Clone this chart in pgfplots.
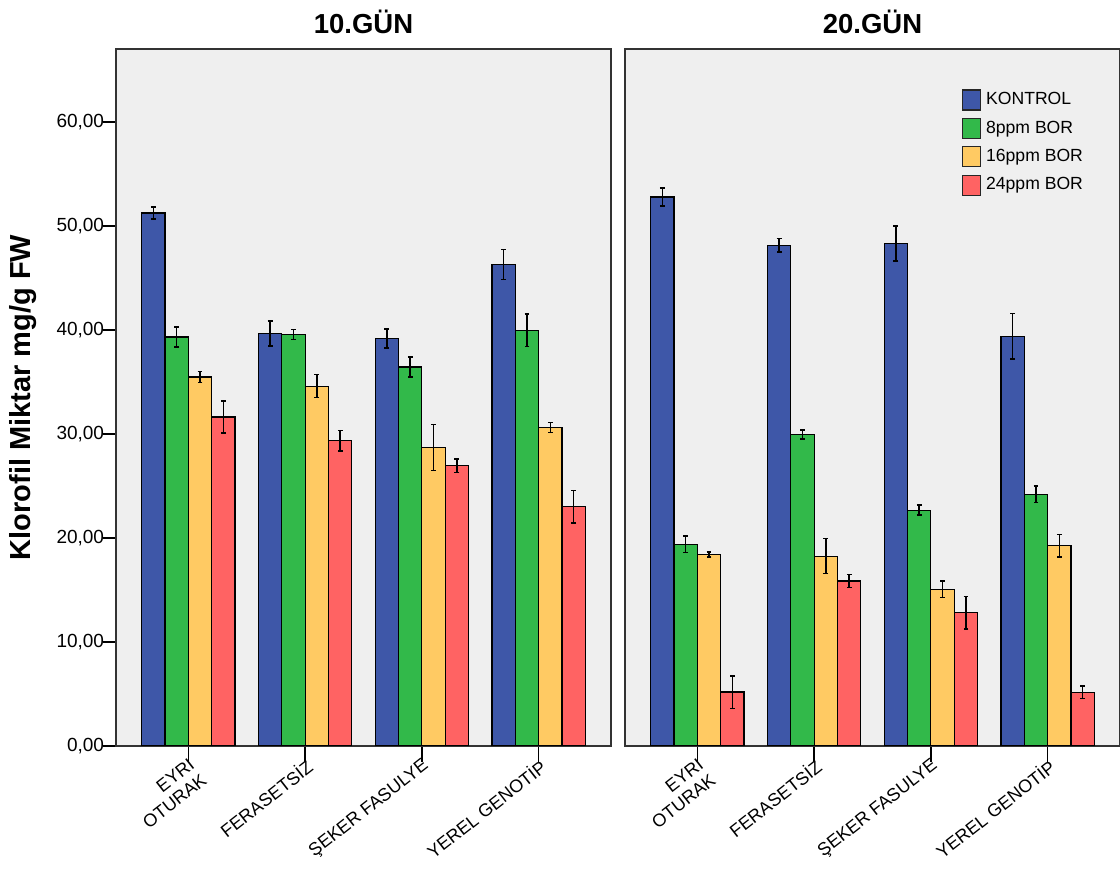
\documentclass[border=0pt]{standalone}
\usepackage{fontspec}
\setmainfont{Liberation Sans}
\usepackage{pgfplots}
\usepackage{pgfplotstable}
\pgfplotsset{compat=1.18}
\definecolor{cK}{RGB}{62,87,168}
\definecolor{cG}{RGB}{50,185,74}
\definecolor{cY}{RGB}{255,202,99}
\definecolor{cR}{RGB}{255,99,99}
\definecolor{bgc}{RGB}{239,239,239}

% 10. GUN
\pgfplotstableread{
x k ke g ge y ye r re
0 51.25 0.60 39.33 0.96 35.48 0.53 31.63 1.54
1 39.65 1.20 39.56 0.48 34.59 1.10 29.33 1.00
2 39.17 0.91 36.44 0.96 28.69 2.20 26.92 0.64
3 46.30 1.45 39.97 1.57 30.62 0.48 22.98 1.55
}\tenday
% 20. GUN
\pgfplotstableread{
x k ke g ge y ye r re
0 52.79 0.85 19.37 0.80 18.40 0.24 5.16 1.57
1 48.14 0.64 29.94 0.45 18.24 1.68 15.84 0.64
2 48.31 1.70 22.66 0.48 15.04 0.80 12.79 1.55
3 39.40 2.20 24.20 0.80 19.23 1.07 5.13 0.60
}\twentyday

\pgfplotsset{
  common/.style={
    scale only axis, width=247.5pt, height=348.2pt, anchor=south west,
    xmin=-0.62, xmax=3.62, ymin=0, ymax=67,
    axis background/.style={fill=bgc},
    axis line style={draw=black!80, line width=0.8pt},
    ybar, bar width=0.2,
    xtick={0,1,2,3},
    xticklabels={{EYRI\\OTURAK},{FERASETSİZ},{ŞEKER FASULYE},{YEREL GENOTİP}},
    xtick pos=bottom, ytick pos=left, tick align=outside,
    xtick style={black, line width=0.8pt, /pgfplots/major tick length=8pt},
    ytick style={black, line width=0.8pt, /pgfplots/major tick length=6.5pt},
    xticklabel style={rotate=38, anchor=north east, align=right,
      font=\fontsize{9}{10}\selectfont, inner sep=1pt},
    yticklabel style={font=\fontsize{9.5}{10.5}\selectfont, inner sep=1.5pt,
      /pgf/number format/.cd, fixed, fixed zerofill, precision=2, use comma,
      assume math mode=true},
    title style={font=\fontsize{13.75}{16}\selectfont\bfseries,
      at={(0.5,1)}, anchor=base, yshift=2pt},
    error bars/y dir=both, error bars/y explicit,
    error bars/error bar style={black, line width=0.75pt},
    error bars/error mark options={black, rotate=90, mark size=1.2pt, line width=0.75pt},
    legend image code/.code={\draw[#1, draw=black!85, line width=0.6pt] (0pt,-5pt) rectangle (9pt,5pt);},
  },
  kb/.style={fill=cK, draw=black, line width=0.6pt, bar shift=-0.3},
  gb/.style={fill=cG, draw=black, line width=0.6pt, bar shift=-0.1},
  yb/.style={fill=cY, draw=black, line width=0.6pt, bar shift=0.1},
  rb/.style={fill=cR, draw=black, line width=0.6pt, bar shift=0.3},
}

\begin{document}
\begin{tikzpicture}
\path[use as bounding box] (0pt,0pt) rectangle (560pt,440pt);
\begin{axis}[common, at={(58pt,67.15pt)}, title={10.GÜN},
  ytick={0,10,...,60},
  ylabel={Klorofil Miktar mg/g FW},
  ylabel style={at={(axis description cs:0,0.5)}, anchor=center, yshift=46.5pt,
    font=\fontsize{14.5}{17}\selectfont\bfseries}]
\addplot[kb] table[x=x, y=k, y error=ke] {\tenday};
\addplot[gb] table[x=x, y=g, y error=ge] {\tenday};
\addplot[yb] table[x=x, y=y, y error=ye] {\tenday};
\addplot[rb] table[x=x, y=r, y error=re] {\tenday};
\end{axis}
\begin{axis}[common, at={(312.5pt,67.15pt)}, title={20.GÜN},
  ytick=\empty,
  legend style={at={(rel axis cs:0.679,0.943)}, anchor=north west, draw=none, fill=none,
    font=\fontsize{8.8}{10}\selectfont, inner sep=0pt, row sep=3.6pt, column sep=2.2pt,
    nodes={inner sep=0.5pt}},
  legend cell align=left]
\addplot[kb] table[x=x, y=k, y error=ke] {\twentyday};
\addplot[gb] table[x=x, y=g, y error=ge] {\twentyday};
\addplot[yb] table[x=x, y=y, y error=ye] {\twentyday};
\addplot[rb] table[x=x, y=r, y error=re] {\twentyday};
\legend{KONTROL, 8ppm BOR, 16ppm BOR, 24ppm BOR}
\end{axis}
\end{tikzpicture}
\end{document}
